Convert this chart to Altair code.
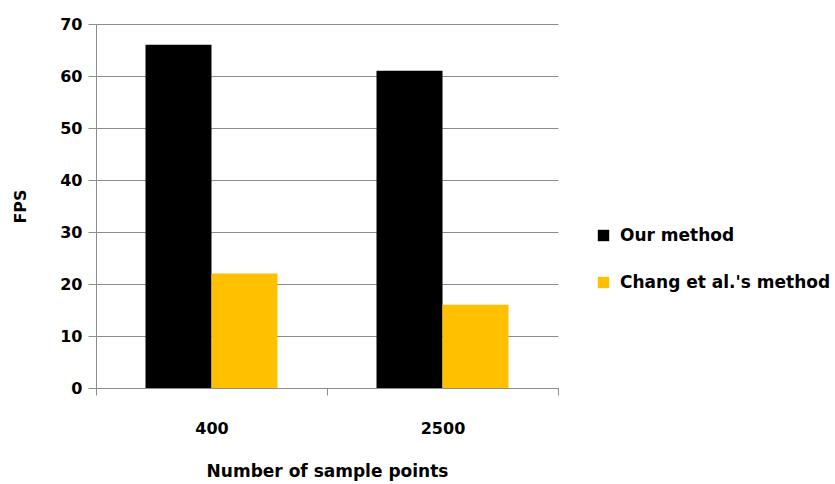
import altair as alt
import pandas as pd

categories = ["400", "2500"]
series = ["Our method", "Chang et al.'s method"]
our_method = [66, 61]
chang_method = [22, 16]
colors = ["#000000", "#FFC000"]

rows = []
for i, c in enumerate(categories):
    rows.append({"points": c, "method": series[0], "fps": our_method[i]})
    rows.append({"points": c, "method": series[1], "fps": chang_method[i]})
df = pd.DataFrame(rows)

FONT = "DejaVu Sans"

chart = alt.Chart(df).mark_bar().encode(
    x=alt.X("points:N", sort=categories,
            scale=alt.Scale(paddingInner=0, paddingOuter=0),
            axis=alt.Axis(title="Number of sample points", labelAngle=0,
                          tickBand="extent", labelPadding=25, tickSize=7,
                          titlePadding=27, titleFontSize=17, grid=False)),
    xOffset=alt.XOffset("method:N", sort=series,
                        scale=alt.Scale(paddingInner=0, paddingOuter=0.75)),
    y=alt.Y("fps:Q", scale=alt.Scale(domain=[0, 70]),
            axis=alt.Axis(title="FPS", values=list(range(0, 71, 10)),
                          tickSize=8, labelPadding=6, titlePadding=31)),
    color=alt.Color("method:N", sort=series,
                    scale=alt.Scale(domain=series, range=colors),
                    legend=alt.Legend(title=None, orient="none",
                                      legendX=499, legendY=203,
                                      symbolType="square", symbolSize=130,
                                      symbolStrokeWidth=0,
                                      labelFontSize=17, labelFont=FONT,
                                      labelFontWeight="bold", labelColor="#000",
                                      rowPadding=29, labelOffset=8,
                                      labelLimit=300)),
).properties(
    width=462, height=364,
    autosize=alt.AutoSizeParams(type="none"),
    padding={"left": 96, "top": 24, "right": 277, "bottom": 96},
).configure_view(stroke=None).configure_axis(
    labelFont=FONT, labelFontSize=16, labelFontWeight="bold", labelColor="#000",
    titleFont=FONT, titleFontSize=16, titleFontWeight="bold", titleColor="#000",
    domainColor="#8c8c8c", tickColor="#8c8c8c", gridColor="#8c8c8c",
    domainWidth=1, tickWidth=1, gridWidth=1,
).configure_axisY(domain=True)

chart.save("out.html", embed_options={"renderer": "svg", "actions": False})
